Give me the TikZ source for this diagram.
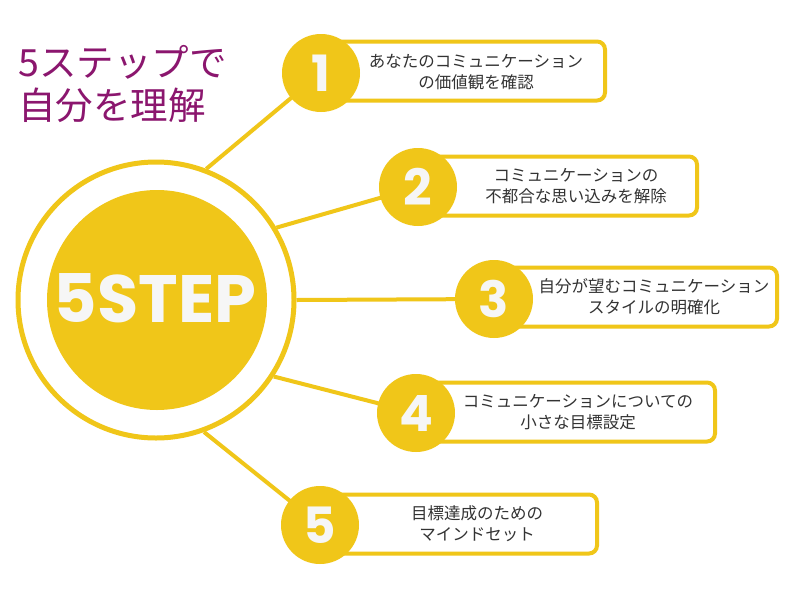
\documentclass[tikz,border=0pt]{standalone}
\usepackage{fontspec}
\setmainfont{Poppins}
\newfontfamily\jpfont{Noto Sans CJK JP}
\newfontfamily\numfont{Poppins}[UprightFont=* Bold]
\usetikzlibrary{backgrounds}
\definecolor{ylw}{RGB}{240,198,25}
\definecolor{ttl}{RGB}{139,22,110}
\definecolor{txt}{RGB}{51,51,51}
\definecolor{wht}{RGB}{246,246,246}
\tikzset{
  conn/.style={draw=ylw,line width=4pt},
  stepcirc/.style={circle,fill=ylw,minimum size=78pt,inner sep=0pt,text=wht,font=\numfont\fontsize{50}{50}\selectfont},
  stepbox/.style={draw=ylw,line width=4pt,fill=white,rounded corners=8pt,minimum height=59pt,anchor=west,inner sep=0pt},
  steptext/.style={align=center,text=txt,font=\jpfont\fontsize{16.5}{21}\selectfont,inner sep=0pt}
}
\begin{document}
\begin{tikzpicture}[x=1pt,y=-1pt]
\useasboundingbox (0,0) rectangle (800,600);
% title
\node[anchor=west,align=left,text=ttl,inner sep=0pt,font=\jpfont\fontsize{37.5}{43}\selectfont] (title) at (18,84) {5ステップで\\自分を理解};
% big circle
\node[circle,draw=ylw,line width=5pt,minimum size=276pt,inner sep=0pt] (big) at (156,300) {};
\node[circle,fill=ylw,minimum size=220pt,inner sep=0pt] (core) at (157,300) {};
\node[text=wht,inner sep=0pt,font=\numfont\fontsize{67}{67}\selectfont] (label) at (155,298) {5STEP};
% boxes
\node[stepbox,minimum width=282pt] (b1) at (321,71) {};
\node[stepbox,minimum width=277pt] (b2) at (418,186) {};
\node[stepbox,minimum width=281pt] (b3) at (494,297) {};
\node[stepbox,minimum width=297pt] (b4) at (416,412) {};
\node[stepbox,minimum width=275pt] (b5) at (320,524) {};
% step circles
\node[stepcirc] (s1) at (321,73) {1};
\node[stepcirc] (s2) at (418,187) {2};
\node[stepcirc] (s3) at (494,299) {3};
\node[stepcirc] (s4) at (416,413) {4};
\node[stepcirc] (s5) at (320,525) {5};
% texts
\node[steptext] (t1) at (476,72) {あなたのコミュニケーション\\の価値観を確認};
\node[steptext] (t2) at (576,186) {コミュニケーションの\\不都合な思い込みを解除};
\node[steptext] (t3) at (654,297) {自分が望むコミュニケーション\\スタイルの明確化};
\node[steptext] (t4) at (578,412) {コミュニケーションについての\\小さな目標設定};
\node[steptext] (t5) at (477,524) {目標達成のための\\マインドセット};
% background and connectors
\begin{scope}[on background layer]
\fill[white] (0,0) rectangle (800,600);
\draw[conn] (big.69.5) -- (s1.center);
\draw[conn] (big.31) -- (s2.center);
\draw[conn] (big.0) -- (s3.center);
\draw[conn] (big.-33) -- (s4.center);
\draw[conn] (big.-70.5) -- (s5.center);
\end{scope}
\end{tikzpicture}
\end{document}
